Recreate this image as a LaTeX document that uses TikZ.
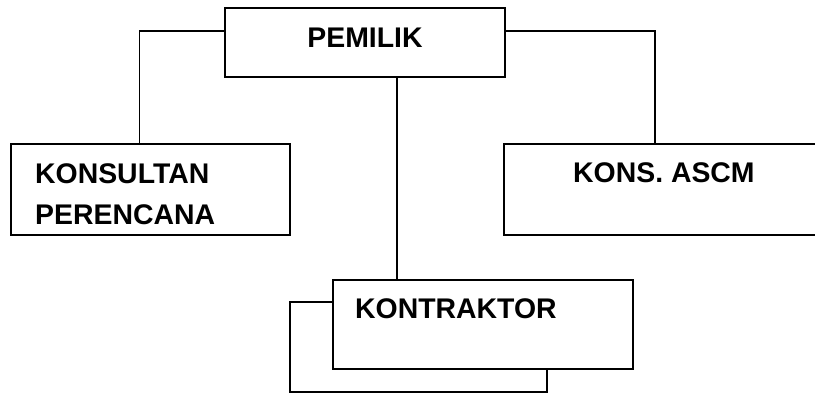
\documentclass[tikz,border=0pt]{standalone}
\usepackage{fontspec}
\setmainfont{Liberation Sans}

\begin{document}
\begin{tikzpicture}[x=1pt,y=1pt,
    box/.style={draw, line width=1.6pt, fill=white, inner sep=0pt},
    lbl/.style={font=\bfseries\fontsize{28.4}{41}\selectfont, inner sep=0pt, align=left}]
      \useasboundingbox (0,0) rectangle (815,393) ;
      \node[box, minimum width=280pt, minimum height=69pt] (pem) at (365,350.5) {} ;
      \node[box, minimum width=279pt, minimum height=91pt] (kp) at (150.5,203.5) {} ;
      \node[box, minimum width=313pt, minimum height=91pt] (ascm) at (660.5,203.5) {} ;
      \node[box, minimum width=257pt, minimum height=90pt] (konb) at (418.5,46) {} ;
      \node[box, minimum width=300pt, minimum height=89pt] (kon) at (483,68.5) {} ;
      \node[lbl, anchor=base] (pemt) at (365,345) {PEMILIK} ;
      \node[lbl, anchor=base west] (kpt1) at (35,209) {KONSULTAN} ;
      \node[lbl, anchor=base west] (kpt2) at (35,168) {PERENCANA} ;
      \node[lbl, anchor=base west] (ascmt) at (573,210) {KONS. ASCM} ;
      \node[lbl, anchor=base west] (kont) at (355,74) {KONTRAKTOR} ;
      \draw[line width=1.6pt] ([yshift=11.5pt]pem.west) -| ([xshift=-11pt]kp.north) ;
      \draw[line width=1.6pt] ([yshift=11.5pt]pem.east) -| ([xshift=-5.5pt]ascm.north) ;
      \draw[line width=1.6pt] ([xshift=32pt]pem.south) -- ([xshift=32pt]pem.south |- kon.north) ;
    \end{tikzpicture}
\end{document}
